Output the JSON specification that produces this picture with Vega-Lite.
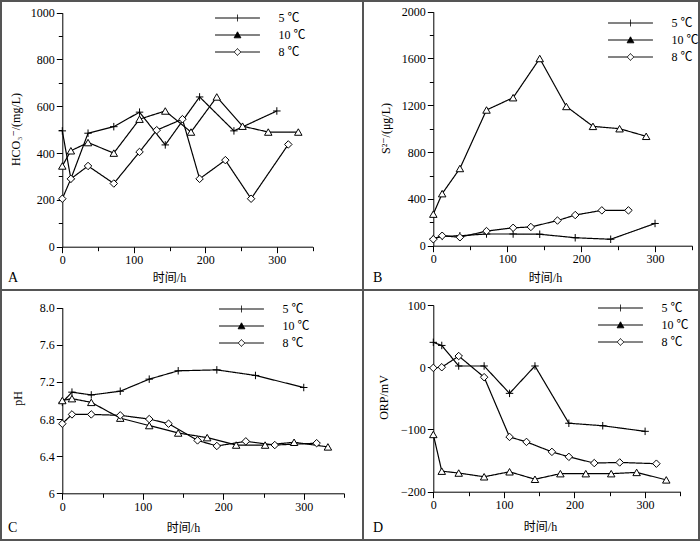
{
  "$schema": "https://vega.github.io/schema/vega-lite/v6.json",
  "background": "white",
  "padding": 0,
  "columns": 2,
  "spacing": 0,
  "bounds": "flush",
  "config": {
    "font": "Liberation Serif, Noto Sans CJK SC, DejaVu Serif",
    "view": {"stroke": "#555555", "strokeWidth": 2},
    "axis": {
      "domainColor": "black", "domainWidth": 1, "tickColor": "black", "tickWidth": 1,
      "labelFont": "Liberation Serif, Noto Sans CJK SC, DejaVu Serif", "labelFontSize": 12, "labelColor": "black",
      "titleFont": "Liberation Serif, Noto Sans CJK SC, DejaVu Serif", "titleFontSize": 12, "titleFontWeight": "normal", "titleColor": "black",
      "grid": false, "labelPadding": 2, "labelFlush": false, "labelOverlap": false
    },
    "legend": {
      "labelFont": "Liberation Serif, Noto Sans CJK SC, DejaVu Serif", "labelFontSize": 12, "labelColor": "black",
      "padding": 0, "rowPadding": 5, "symbolSize": 56, "symbolOffset": 16.5, "labelOffset": 35, "symbolStrokeWidth": 1
    },
    "title": {"font": "Liberation Serif, Noto Sans CJK SC, DejaVu Serif", "fontSize": 14, "fontWeight": "normal", "color": "black"}
  },
  "resolve": {"scale": {"shape": "independent", "strokeDash": "independent"}, "legend": {"strokeDash": "independent"}},
  "datasets": {
    "A": [
      {"s": "5 ℃", "t": 0, "v": 495}, {"s": "5 ℃", "t": 12, "v": 290}, {"s": "5 ℃", "t": 36, "v": 485}, {"s": "5 ℃", "t": 72, "v": 513}, {"s": "5 ℃", "t": 108, "v": 575}, {"s": "5 ℃", "t": 144, "v": 435}, {"s": "5 ℃", "t": 192, "v": 640}, {"s": "5 ℃", "t": 240, "v": 495}, {"s": "5 ℃", "t": 300, "v": 580},
      {"s": "10 ℃", "t": 0, "v": 345}, {"s": "10 ℃", "t": 12, "v": 410}, {"s": "10 ℃", "t": 36, "v": 445}, {"s": "10 ℃", "t": 72, "v": 400}, {"s": "10 ℃", "t": 108, "v": 545}, {"s": "10 ℃", "t": 144, "v": 580}, {"s": "10 ℃", "t": 180, "v": 490}, {"s": "10 ℃", "t": 216, "v": 640}, {"s": "10 ℃", "t": 252, "v": 515}, {"s": "10 ℃", "t": 288, "v": 490}, {"s": "10 ℃", "t": 330, "v": 490},
      {"s": "8 ℃", "t": 0, "v": 205}, {"s": "8 ℃", "t": 12, "v": 290}, {"s": "8 ℃", "t": 36, "v": 345}, {"s": "8 ℃", "t": 72, "v": 270}, {"s": "8 ℃", "t": 108, "v": 405}, {"s": "8 ℃", "t": 132, "v": 498}, {"s": "8 ℃", "t": 168, "v": 545}, {"s": "8 ℃", "t": 192, "v": 290}, {"s": "8 ℃", "t": 228, "v": 370}, {"s": "8 ℃", "t": 264, "v": 205}, {"s": "8 ℃", "t": 316, "v": 437}
    ],
    "B": [
      {"s": "5 ℃", "t": 0, "v": 60}, {"s": "5 ℃", "t": 12, "v": 80}, {"s": "5 ℃", "t": 36, "v": 85}, {"s": "5 ℃", "t": 72, "v": 100}, {"s": "5 ℃", "t": 108, "v": 100}, {"s": "5 ℃", "t": 144, "v": 98}, {"s": "5 ℃", "t": 192, "v": 68}, {"s": "5 ℃", "t": 240, "v": 55}, {"s": "5 ℃", "t": 300, "v": 190},
      {"s": "10 ℃", "t": 0, "v": 270}, {"s": "10 ℃", "t": 12, "v": 445}, {"s": "10 ℃", "t": 36, "v": 660}, {"s": "10 ℃", "t": 72, "v": 1160}, {"s": "10 ℃", "t": 108, "v": 1265}, {"s": "10 ℃", "t": 144, "v": 1600}, {"s": "10 ℃", "t": 180, "v": 1190}, {"s": "10 ℃", "t": 216, "v": 1020}, {"s": "10 ℃", "t": 252, "v": 1000}, {"s": "10 ℃", "t": 288, "v": 935},
      {"s": "8 ℃", "t": 0, "v": 55}, {"s": "8 ℃", "t": 12, "v": 85}, {"s": "8 ℃", "t": 36, "v": 72}, {"s": "8 ℃", "t": 72, "v": 125}, {"s": "8 ℃", "t": 108, "v": 153}, {"s": "8 ℃", "t": 132, "v": 160}, {"s": "8 ℃", "t": 168, "v": 215}, {"s": "8 ℃", "t": 192, "v": 262}, {"s": "8 ℃", "t": 228, "v": 302}, {"s": "8 ℃", "t": 264, "v": 302}
    ],
    "C": [
      {"s": "5 ℃", "t": 0, "v": 6.98}, {"s": "5 ℃", "t": 12, "v": 7.09}, {"s": "5 ℃", "t": 36, "v": 7.06}, {"s": "5 ℃", "t": 72, "v": 7.10}, {"s": "5 ℃", "t": 108, "v": 7.23}, {"s": "5 ℃", "t": 144, "v": 7.32}, {"s": "5 ℃", "t": 192, "v": 7.33}, {"s": "5 ℃", "t": 240, "v": 7.27}, {"s": "5 ℃", "t": 300, "v": 7.14},
      {"s": "10 ℃", "t": 0, "v": 7.0}, {"s": "10 ℃", "t": 12, "v": 7.02}, {"s": "10 ℃", "t": 36, "v": 6.98}, {"s": "10 ℃", "t": 72, "v": 6.81}, {"s": "10 ℃", "t": 108, "v": 6.73}, {"s": "10 ℃", "t": 144, "v": 6.65}, {"s": "10 ℃", "t": 180, "v": 6.60}, {"s": "10 ℃", "t": 216, "v": 6.52}, {"s": "10 ℃", "t": 252, "v": 6.52}, {"s": "10 ℃", "t": 288, "v": 6.55}, {"s": "10 ℃", "t": 330, "v": 6.50},
      {"s": "8 ℃", "t": 0, "v": 6.75}, {"s": "8 ℃", "t": 12, "v": 6.85}, {"s": "8 ℃", "t": 36, "v": 6.85}, {"s": "8 ℃", "t": 72, "v": 6.84}, {"s": "8 ℃", "t": 108, "v": 6.80}, {"s": "8 ℃", "t": 132, "v": 6.75}, {"s": "8 ℃", "t": 168, "v": 6.57}, {"s": "8 ℃", "t": 192, "v": 6.51}, {"s": "8 ℃", "t": 228, "v": 6.56}, {"s": "8 ℃", "t": 264, "v": 6.52}, {"s": "8 ℃", "t": 316, "v": 6.54}
    ],
    "D": [
      {"s": "5 ℃", "t": 0, "v": 40}, {"s": "5 ℃", "t": 12, "v": 35}, {"s": "5 ℃", "t": 36, "v": 2}, {"s": "5 ℃", "t": 72, "v": 2}, {"s": "5 ℃", "t": 108, "v": -42}, {"s": "5 ℃", "t": 144, "v": 2}, {"s": "5 ℃", "t": 192, "v": -90}, {"s": "5 ℃", "t": 240, "v": -94}, {"s": "5 ℃", "t": 300, "v": -103},
      {"s": "10 ℃", "t": 0, "v": -108}, {"s": "10 ℃", "t": 12, "v": -167}, {"s": "10 ℃", "t": 36, "v": -170}, {"s": "10 ℃", "t": 72, "v": -176}, {"s": "10 ℃", "t": 108, "v": -168}, {"s": "10 ℃", "t": 144, "v": -180}, {"s": "10 ℃", "t": 180, "v": -171}, {"s": "10 ℃", "t": 216, "v": -171}, {"s": "10 ℃", "t": 252, "v": -171}, {"s": "10 ℃", "t": 288, "v": -169}, {"s": "10 ℃", "t": 330, "v": -181},
      {"s": "8 ℃", "t": 0, "v": -1}, {"s": "8 ℃", "t": 12, "v": 0}, {"s": "8 ℃", "t": 36, "v": 18}, {"s": "8 ℃", "t": 72, "v": -16}, {"s": "8 ℃", "t": 108, "v": -112}, {"s": "8 ℃", "t": 132, "v": -120}, {"s": "8 ℃", "t": 168, "v": -136}, {"s": "8 ℃", "t": 192, "v": -144}, {"s": "8 ℃", "t": 228, "v": -154}, {"s": "8 ℃", "t": 264, "v": -153}, {"s": "8 ℃", "t": 316, "v": -155}
    ]
  },
  "concat": [
    {
      "width": 362, "height": 289,
      "data": {"name": "A"},
      "title": {"text": "A", "orient": "bottom", "anchor": "start", "dx": 7, "offset": -8, "baseline": "alphabetic"},
      "encoding": {
        "x": {"field": "t", "type": "quantitative",
          "scale": {"domain": [0, 350], "range": [61.3, 311.6], "nice": false, "zero": false},
          "axis": {"title": "时间/h", "values": [0, 50, 100, 150, 200, 250, 300, 350], "labelExpr": "datum.value % 100 === 0 ? datum.label : ''",
            "tickSize": {"condition": {"test": "datum.value % 100 === 0", "value": 6}, "value": 4},
            "offset": -43.3, "titleX": 168, "titleY": 31, "titleBaseline": "middle", "titleAlign": "center"}},
        "y": {"field": "v", "type": "quantitative",
          "scale": {"domain": [0, 1000], "range": [245.7, 11.7], "nice": false, "zero": false},
          "axis": {"title": "HCO₃⁻/(mg/L)", "format": "d", "values": [0, 100, 200, 300, 400, 500, 600, 700, 800, 900, 1000], "labelExpr": "datum.value % 200 === 0 ? datum.label : ''",
            "tickSize": {"condition": {"test": "datum.value % 200 === 0", "value": 6}, "value": 4},
            "offset": -61.3, "titleX": -47.3, "titleY": 128, "titleAngle": -90, "titleBaseline": "middle", "titleAlign": "center"}}
      },
      "layer": [
        {"mark": {"type": "line", "color": "black", "strokeWidth": 1.2},
          "encoding": {"strokeDash": {"field": "s", "type": "nominal",
            "scale": {"domain": ["5 ℃", "10 ℃", "8 ℃"], "range": [[1, 0], [1, 0], [1, 0]]},
            "legend": {"title": null, "orient": "none", "legendX": 214, "legendY": 11,
              "encoding": {"symbols": {
                "shape": {"value": {"expr": "datum.value === '5 ℃' ? 'M-6,0L6,0M0,-0.9L0,0.9' : datum.value === '10 ℃' ? 'M-6,0L6,0M-0.9,0.75L0,-0.85L0.9,0.75Z' : 'M-6,0L-0.9,0M0.9,0L6,0M-0.9,0L0,-0.9L0.9,0L0,0.9Z'"}},
                "fill": {"condition": {"test": "datum.value === '10 ℃'", "value": "black"}, "value": "white"},
                "stroke": {"value": "black"}, "strokeWidth": {"value": 1}, "opacity": {"value": 1}}}}}}},
        {"mark": {"type": "point", "filled": true, "fill": "white", "stroke": "black", "strokeWidth": 1, "opacity": 1, "size": 56},
          "encoding": {"shape": {"field": "s", "type": "nominal", "legend": null,
            "scale": {"domain": ["10 ℃", "5 ℃", "8 ℃"], "range": ["triangle-up", "M-1,0L1,0M0,-1L0,1", "diamond"]}}}}
      ]
    },
    {
      "width": 336, "height": 289,
      "data": {"name": "B"},
      "title": {"text": "B", "orient": "bottom", "anchor": "start", "dx": 10, "offset": -8, "baseline": "alphabetic"},
      "encoding": {
        "x": {"field": "t", "type": "quantitative",
          "scale": {"domain": [0, 350], "range": [70.3, 329], "nice": false, "zero": false},
          "axis": {"title": "时间/h", "values": [0, 50, 100, 150, 200, 250, 300, 350], "labelExpr": "datum.value % 100 === 0 ? datum.label : ''",
            "tickSize": {"condition": {"test": "datum.value % 100 === 0", "value": 6}, "value": 4},
            "offset": -44.3, "titleX": 182, "titleY": 32, "titleBaseline": "middle", "titleAlign": "center"}},
        "y": {"field": "v", "type": "quantitative",
          "scale": {"domain": [0, 2000], "range": [244.7, 10.7], "nice": false, "zero": false},
          "axis": {"title": "S²⁻/(μg/L)", "format": "d", "values": [0, 200, 400, 600, 800, 1000, 1200, 1400, 1600, 1800, 2000], "labelExpr": "datum.value % 400 === 0 ? datum.label : ''",
            "tickSize": {"condition": {"test": "datum.value % 400 === 0", "value": 6}, "value": 4},
            "offset": -70.3, "titleX": -48.3, "titleY": 127, "titleAngle": -90, "titleBaseline": "middle", "titleAlign": "center"}}
      },
      "layer": [
        {"mark": {"type": "line", "color": "black", "strokeWidth": 1.2},
          "encoding": {"strokeDash": {"field": "s", "type": "nominal",
            "scale": {"domain": ["5 ℃", "10 ℃", "8 ℃"], "range": [[1, 0], [1, 0], [1, 0]]},
            "legend": {"title": null, "orient": "none", "legendX": 245, "legendY": 16,
              "encoding": {"symbols": {
                "shape": {"value": {"expr": "datum.value === '5 ℃' ? 'M-6,0L6,0M0,-0.9L0,0.9' : datum.value === '10 ℃' ? 'M-6,0L6,0M-0.9,0.75L0,-0.85L0.9,0.75Z' : 'M-6,0L-0.9,0M0.9,0L6,0M-0.9,0L0,-0.9L0.9,0L0,0.9Z'"}},
                "fill": {"condition": {"test": "datum.value === '10 ℃'", "value": "black"}, "value": "white"},
                "stroke": {"value": "black"}, "strokeWidth": {"value": 1}, "opacity": {"value": 1}}}}}}},
        {"mark": {"type": "point", "filled": true, "fill": "white", "stroke": "black", "strokeWidth": 1, "opacity": 1, "size": 56},
          "encoding": {"shape": {"field": "s", "type": "nominal", "legend": null,
            "scale": {"domain": ["10 ℃", "5 ℃", "8 ℃"], "range": ["triangle-up", "M-1,0L1,0M0,-1L0,1", "diamond"]}}}}
      ]
    },
    {
      "width": 362, "height": 250,
      "data": {"name": "C"},
      "title": {"text": "C", "orient": "bottom", "anchor": "start", "dx": 7, "offset": -8, "baseline": "alphabetic"},
      "encoding": {
        "x": {"field": "t", "type": "quantitative",
          "scale": {"domain": [0, 350], "range": [61.3, 343], "nice": false, "zero": false},
          "axis": {"title": "时间/h", "values": [0, 50, 100, 150, 200, 250, 300, 350], "labelExpr": "datum.value % 100 === 0 ? datum.label : ''",
            "tickSize": {"condition": {"test": "datum.value % 100 === 0", "value": 6}, "value": 4},
            "offset": -46.7, "titleX": 182, "titleY": 34, "titleBaseline": "middle", "titleAlign": "center"}},
        "y": {"field": "v", "type": "quantitative",
          "scale": {"domain": [6, 8], "range": [203.3, 17.7], "nice": false, "zero": false},
          "axis": {"title": "pH", "values": [6, 6.4, 6.8, 7.2, 7.6, 8], "labelExpr": "datum.value === 6 ? '6' : format(datum.value, '.1f')",
            "tickSize": 6,
            "offset": -61.3, "titleX": -45.3, "titleY": 108, "titleAngle": -90, "titleBaseline": "middle", "titleAlign": "center"}}
      },
      "layer": [
        {"mark": {"type": "line", "color": "black", "strokeWidth": 1.2},
          "encoding": {"strokeDash": {"field": "s", "type": "nominal",
            "scale": {"domain": ["5 ℃", "10 ℃", "8 ℃"], "range": [[1, 0], [1, 0], [1, 0]]},
            "legend": {"title": null, "orient": "none", "legendX": 218, "legendY": 13,
              "encoding": {"symbols": {
                "shape": {"value": {"expr": "datum.value === '5 ℃' ? 'M-6,0L6,0M0,-0.9L0,0.9' : datum.value === '10 ℃' ? 'M-6,0L6,0M-0.9,0.75L0,-0.85L0.9,0.75Z' : 'M-6,0L-0.9,0M0.9,0L6,0M-0.9,0L0,-0.9L0.9,0L0,0.9Z'"}},
                "fill": {"condition": {"test": "datum.value === '10 ℃'", "value": "black"}, "value": "white"},
                "stroke": {"value": "black"}, "strokeWidth": {"value": 1}, "opacity": {"value": 1}}}}}}},
        {"mark": {"type": "point", "filled": true, "fill": "white", "stroke": "black", "strokeWidth": 1, "opacity": 1, "size": 56},
          "encoding": {"shape": {"field": "s", "type": "nominal", "legend": null,
            "scale": {"domain": ["10 ℃", "5 ℃", "8 ℃"], "range": ["triangle-up", "M-1,0L1,0M0,-1L0,1", "diamond"]}}}}
      ]
    },
    {
      "width": 336, "height": 250,
      "data": {"name": "D"},
      "title": {"text": "D", "orient": "bottom", "anchor": "start", "dx": 10, "offset": -8, "baseline": "alphabetic"},
      "encoding": {
        "x": {"field": "t", "type": "quantitative",
          "scale": {"domain": [0, 350], "range": [70.3, 317.4], "nice": false, "zero": false},
          "axis": {"title": "时间/h", "values": [0, 50, 100, 150, 200, 250, 300, 350], "labelExpr": "datum.value % 100 === 0 ? datum.label : ''",
            "tickSize": {"condition": {"test": "datum.value % 100 === 0", "value": 6}, "value": 4},
            "offset": -48.3, "titleX": 177, "titleY": 35, "titleBaseline": "middle", "titleAlign": "center"}},
        "y": {"field": "v", "type": "quantitative",
          "scale": {"domain": [-200, 100], "range": [201.7, 15], "nice": false, "zero": false},
          "axis": {"title": "ORP/mV", "values": [-200, -100, 0, 100],
            "tickSize": 6,
            "offset": -70.3, "titleX": -50.3, "titleY": 107, "titleAngle": -90, "titleBaseline": "middle", "titleAlign": "center"}}
      },
      "layer": [
        {"mark": {"type": "line", "color": "black", "strokeWidth": 1.2},
          "encoding": {"strokeDash": {"field": "s", "type": "nominal",
            "scale": {"domain": ["5 ℃", "10 ℃", "8 ℃"], "range": [[1, 0], [1, 0], [1, 0]]},
            "legend": {"title": null, "orient": "none", "legendX": 235, "legendY": 12,
              "encoding": {"symbols": {
                "shape": {"value": {"expr": "datum.value === '5 ℃' ? 'M-6,0L6,0M0,-0.9L0,0.9' : datum.value === '10 ℃' ? 'M-6,0L6,0M-0.9,0.75L0,-0.85L0.9,0.75Z' : 'M-6,0L-0.9,0M0.9,0L6,0M-0.9,0L0,-0.9L0.9,0L0,0.9Z'"}},
                "fill": {"condition": {"test": "datum.value === '10 ℃'", "value": "black"}, "value": "white"},
                "stroke": {"value": "black"}, "strokeWidth": {"value": 1}, "opacity": {"value": 1}}}}}}},
        {"mark": {"type": "point", "filled": true, "fill": "white", "stroke": "black", "strokeWidth": 1, "opacity": 1, "size": 56},
          "encoding": {"shape": {"field": "s", "type": "nominal", "legend": null,
            "scale": {"domain": ["10 ℃", "5 ℃", "8 ℃"], "range": ["triangle-up", "M-1,0L1,0M0,-1L0,1", "diamond"]}}}}
      ]
    }
  ]
}
